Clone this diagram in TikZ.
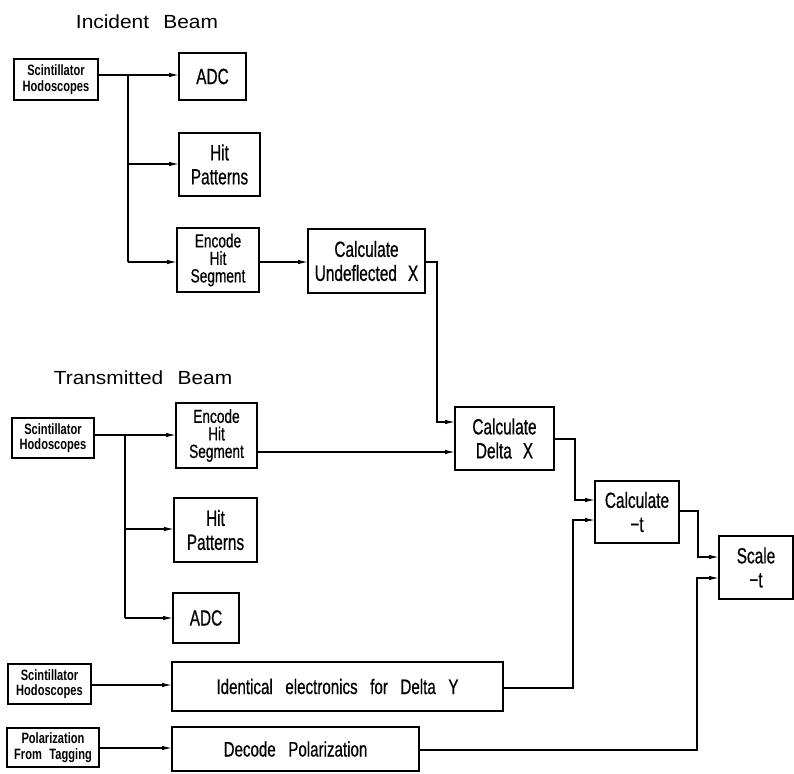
\documentclass[tikz,border=0pt]{standalone}
\usepackage{fontspec}
\setmainfont{Liberation Sans}
\newfontfamily\boxfont[FakeStretch=0.7,FakeBold=0.6]{Liberation Sans}
\newfontfamily\encfont[FakeStretch=0.72,FakeBold=0.6]{Liberation Sans}
\newfontfamily\longfont[FakeStretch=0.72,FakeBold=0.6]{Liberation Sans}
\newfontfamily\smallfont[FakeStretch=0.74]{Liberation Sans}
\newfontfamily\titlefont[FakeStretch=1.1]{Liberation Sans}
\usetikzlibrary{arrows.meta}
\begin{document}
\begin{tikzpicture}[x=1pt,y=-1pt,
  blk/.style={draw, line width=1.2pt, align=center, inner sep=0pt, outer sep=0pt},
  sbox/.style={blk, font=\smallfont\bfseries\fontsize{15}{15.5}\selectfont},
  mbox/.style={blk, font=\boxfont\fontsize{22}{24}\selectfont},
  ebox/.style={blk, font=\encfont\fontsize{19}{17.5}\selectfont},
  lbox/.style={blk, font=\longfont\fontsize{21}{22}\selectfont},
  ttl/.style={font=\titlefont\fontsize{19}{22}\selectfont},
  wire/.style={line width=1.2pt},
  arr/.style={wire, -{Latex[length=10pt,width=4.5pt]}}]
\useasboundingbox (0,0) rectangle (794,773);

% titles
\node[ttl] (t1) at (147,22) {Incident\hspace{0.75em}Beam};
\node[ttl] (t2) at (143,378) {Transmitted\hspace{0.75em}Beam};

% incident beam
\node[sbox, minimum width=84pt, minimum height=41pt] (s1) at (56,79.5) {Scintillator\\Hodoscopes};
\node[mbox, minimum width=67pt, minimum height=47pt] (adc1) at (212.5,76.5) {ADC};
\node[mbox, minimum width=81pt, minimum height=63pt] (hit1) at (219.5,164.5) {Hit\\Patterns};
\node[ebox, minimum width=82pt, minimum height=64pt] (enc1) at (218,260) {Encode\\Hit\\Segment};
\node[mbox, minimum width=117pt, minimum height=64pt] (und) at (366.5,261) {Calculate\\Undeflected\hspace{0.5em}X};

% transmitted beam
\node[sbox, minimum width=82pt, minimum height=40pt] (s2) at (53,438) {Scintillator\\Hodoscopes};
\node[ebox, minimum width=81pt, minimum height=65pt] (enc2) at (216.5,435.5) {Encode\\Hit\\Segment};
\node[mbox, minimum width=83pt, minimum height=64pt] (hit2) at (215.5,530) {Hit\\Patterns};
\node[mbox, minimum width=66pt, minimum height=50pt] (adc2) at (206,618) {ADC};

% calculation chain
\node[mbox, minimum width=99pt, minimum height=63pt] (dx) at (504.5,438.5) {Calculate\\Delta\hspace{0.5em}X};
\node[mbox, minimum width=84pt, minimum height=62pt] (ct) at (637,512) {Calculate\\−t};
\node[mbox, minimum width=74pt, minimum height=63pt] (sc) at (756,567.5) {Scale\\−t};

% bottom rows
\node[sbox, minimum width=83pt, minimum height=40pt] (s3) at (49.5,684) {Scintillator\\Hodoscopes};
\node[lbox, minimum width=331pt, minimum height=49pt] (ide) at (337.5,686.5) {Identical\hspace{0.4em} electronics\hspace{0.4em} for\hspace{0.4em} Delta\hspace{0.4em} Y};
\node[sbox, minimum width=92pt, minimum height=39pt] (pol) at (53,747.5) {Polarization\\From\hspace{0.3em} Tagging};
\node[lbox, minimum width=247pt, minimum height=44pt] (dec) at (295.5,749) {Decode\hspace{0.4em} Polarization};

% incident connectors
\coordinate (b1a) at (128,75);
\coordinate (b1b) at (128,164);
\coordinate (b1c) at (128,262);
\draw[arr] (s1.east |- b1a) -- (adc1.west |- b1a);
\draw[wire] (b1a) -- (b1c);
\draw[arr] (b1b) -- (hit1.west |- b1b);
\draw[arr] (b1c) -- (enc1.west |- b1c);
\draw[arr] (enc1.east |- b1c) -- (und.west |- b1c);
\coordinate (u1) at (437,262);
\coordinate (u2) at (437,422);
\draw[arr] (und.east |- u1) -- (u1) -- (u2) -- (dx.west |- u2);

% transmitted connectors
\coordinate (b2a) at (125,435);
\coordinate (b2b) at (125,529);
\coordinate (b2c) at (125,618);
\draw[arr] (s2.east |- b2a) -- (enc2.west |- b2a);
\draw[wire] (b2a) -- (b2c);
\draw[arr] (b2b) -- (hit2.west |- b2b);
\draw[arr] (b2c) -- (adc2.west |- b2c);
\coordinate (e2) at (300,452);
\draw[arr] (enc2.east |- e2) -- (dx.west |- e2);

% chain connectors
\coordinate (d1) at (575,439);
\coordinate (d2) at (575,500);
\draw[arr] (dx.east |- d1) -- (d1) -- (d2) -- (ct.west |- d2);
\coordinate (i1) at (573,688);
\coordinate (i2) at (573,520);
\draw[arr] (ide.east |- i1) -- (i1) -- (i2) -- (ct.west |- i2);
\coordinate (c1) at (698,511);
\coordinate (c2) at (698,557);
\draw[arr] (ct.east |- c1) -- (c1) -- (c2) -- (sc.west |- c2);
\coordinate (p1) at (697,750);
\coordinate (p2) at (697,578);
\draw[arr] (dec.east |- p1) -- (p1) -- (p2) -- (sc.west |- p2);

% bottom inputs
\coordinate (y3) at (0,685);
\draw[arr] (s3.east |- y3) -- (ide.west |- y3);
\coordinate (y4) at (0,748);
\draw[arr] (pol.east |- y4) -- (dec.west |- y4);
\end{tikzpicture}
\end{document}
